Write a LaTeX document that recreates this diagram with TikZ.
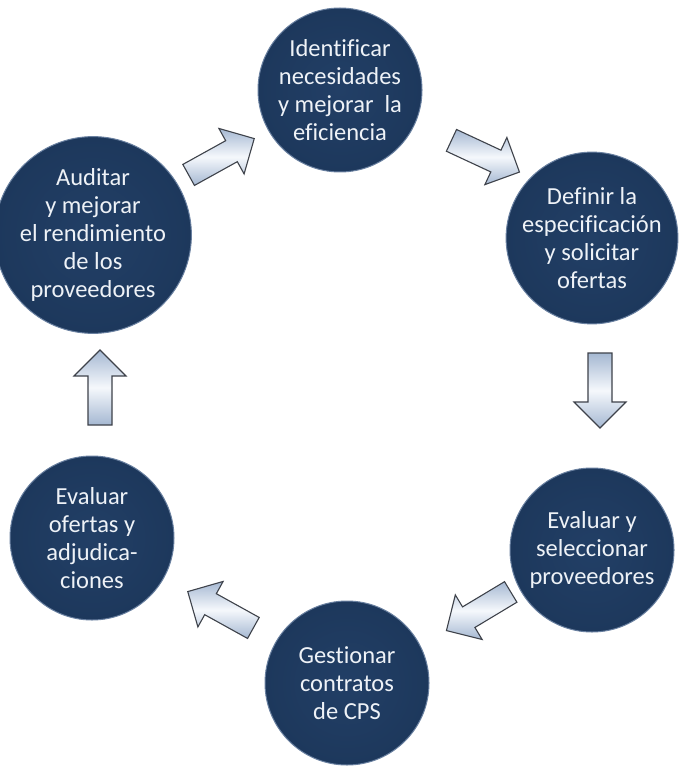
\documentclass[tikz,border=0pt]{standalone}
\usepackage{fontspec}
\setmainfont{Carlito}[Ligatures=NoCommon]
\usetikzlibrary{calc}
\definecolor{navyin}{RGB}{34,63,102}
\definecolor{navyout}{RGB}{29,56,92}
\definecolor{navyrim}{RGB}{105,128,160}
\definecolor{arrlight}{RGB}{245,248,252}
\definecolor{arrdark}{RGB}{165,184,210}
\definecolor{arredge}{RGB}{62,66,74}
\definecolor{txt}{RGB}{238,242,247}
\tikzset{
  stage/.style={circle, minimum size=#1, inner sep=0pt,
    inner color=navyin, outer color=navyout,
    draw=navyrim, line width=1pt,
    text=txt, align=center,
    font=\fontsize{24.5}{28}\selectfont},
  stage/.default=164pt,
  blockarr/.style={draw=arredge, line width=1.1pt, line join=miter,
    top color=arrdark, bottom color=arrdark, middle color=arrlight}
}
\newcommand\blockarrow[3]{%
  \coordinate (#1) at #2;
  \begin{scope}[shift={#2}, rotate=#3]
    \path[blockarr] (-37,-12) -- (12,-12) -- (12,-26) -- (38,0) -- (12,26) -- (12,12) -- (-37,12) -- cycle;
  \end{scope}}
\begin{document}
\begin{tikzpicture}[x=1pt,y=-1pt]
\useasboundingbox (0,0) rectangle (680,767);
\fill[white] (0,0) rectangle (680,767);
\node[stage] (ident) at (340,90) {Identificar\\necesidades\\y mejorar\ \ la\\eficiencia};
\node[stage] (defin) at (592,238) {Definir la\\especificación\\y solicitar\\ofertas};
\node[stage] (selec) at (592,550) {Evaluar y\\seleccionar\\proveedores};
\node[stage] (gest) at (347,683) {Gestionar\\contratos\\de CPS};
\node[stage] (ofer) at (92,538) {Evaluar\\ofertas y\\adjudica-\\ciones};
\node[stage=178pt] (audit) at (93,235) {Auditar\\y mejorar\\el rendimiento\\de los\\proveedores};
\blockarrow{a1}{(221,157)}{29}
\blockarrow{a2}{(485,156)}{-25}
\blockarrow{a3}{(600,390)}{-90}
\blockarrow{a4}{(479,611)}{211}
\blockarrow{a5}{(221,610)}{151}
\blockarrow{a6}{(100,388)}{90}
\end{tikzpicture}
\end{document}
